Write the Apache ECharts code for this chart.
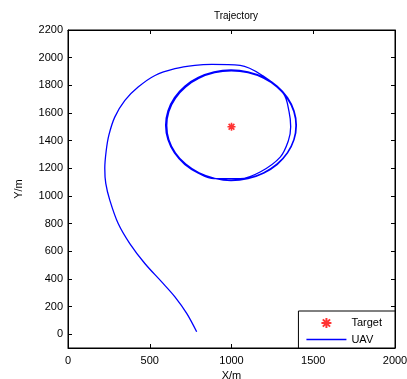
<!DOCTYPE html>
<html>
<head>
<meta charset="utf-8">
<script src="https://cdn.jsdelivr.net/npm/echarts@6/dist/echarts.min.js"></script>
<style>
  html, body { margin: 0; padding: 0; background: #fff; }
  #main { width: 407px; height: 379px; }
</style>
</head>
<body>
<div id="main"></div>
<script>
// tick labels
var xTicks = [0, 500, 1000, 1500, 2000];
var yTicks = [0, 200, 400, 600, 800, 1000, 1200, 1400, 1600, 1800, 2000, 2200];

// target position
var targetX = [1000];
var targetY = [1500];

// UAV path: approach, wide sweep, then two loops round the target
var uavX = [787, 726, 654, 573, 470, 378, 307, 256, 231, 225, 234, 250, 286, 348, 429, 532, 654, 776, 879,
  1053, 1190, 1318, 1352, 1362, 1348, 1298, 1175, 1053,
  893, 797, 714, 651, 611, 597, 611, 651, 714, 797, 893, 997, 1101, 1197, 1280, 1343, 1383, 1397,
  1383, 1343, 1280, 1197, 1101, 997,
  897, 802, 720, 657, 617, 604, 617, 657, 720, 802, 897, 999, 1101, 1196, 1278, 1341, 1381, 1394,
  1381, 1341, 1278, 1196, 1101, 999, 897];
var uavY = [17, 150, 270, 378, 511, 655, 800, 968, 1090, 1200, 1330, 1440, 1570, 1691, 1787, 1871, 1920, 1944, 1951,
  1944, 1870, 1739, 1610, 1500, 1400, 1281, 1173, 1125,
  1125, 1165, 1228, 1311, 1407, 1511, 1615, 1711, 1794, 1857, 1897, 1911, 1897, 1857, 1794, 1711, 1615, 1511,
  1407, 1311, 1228, 1165, 1125, 1111,
  1127, 1167, 1230, 1312, 1407, 1509, 1611, 1706, 1788, 1851, 1891, 1904, 1891, 1851, 1788, 1706, 1611, 1509,
  1407, 1312, 1230, 1167, 1127, 1114, 1127];

var uavData = uavX.map(function (x, i) { return [x, uavY[i]]; });
var targetData = targetX.map(function (x, i) { return [x, targetY[i]]; });

var font = 'Liberation Sans, Arial, sans-serif';
var star = 'path://M0,-5L0,5M-5,0L5,0M-3.6,-3.6L3.6,3.6M-3.6,3.6L3.6,-3.6';
var plain = function (v) { return String(v); };
var tick = { inside: true, length: 4, lineStyle: { color: '#000', width: 1 } };

var myChart = echarts.init(document.getElementById('main'));
myChart.setOption({
    animation: false,
    title: {
        text: 'Trajectory',
        left: 231, top: 6, textAlign: 'center',
        textStyle: { fontFamily: font, fontSize: 10, fontWeight: 'normal', color: '#000' }
    },
    legend: {
        right: 12, bottom: 31,
        orient: 'vertical',
        itemWidth: 40, itemHeight: 10, itemGap: 5,
        padding: [6, 13, 3, 8],
        borderColor: '#000', borderWidth: 1,
        backgroundColor: '#fff',
        textStyle: { fontFamily: font, fontSize: 11, color: '#000' },
        data: ['Target', { name: 'UAV', icon: 'path://M0,0H40V1.3H0Z' }]
    },
    grid: {
        left: 68, right: 12, top: 30, bottom: 31,
        outerBoundsMode: 'none',
        show: true, borderColor: '#000', borderWidth: 1
    },
    xAxis: [{
        type: 'value', min: 0, max: 2000, interval: 500,
        name: 'X/m', nameLocation: 'middle', nameGap: 22,
        nameTextStyle: { fontFamily: font, fontSize: 11, color: '#000' },
        axisLine: { show: true, onZero: false, lineStyle: { color: '#000' } },
        axisTick: tick,
        axisLabel: { fontFamily: font, fontSize: 11, color: '#000', margin: 7, formatter: plain },
        splitLine: { show: false }
    }, {
        type: 'value', min: 0, max: 2000, interval: 500, position: 'top',
        axisLine: { show: true, onZero: false, lineStyle: { color: '#000' } },
        axisTick: tick,
        axisLabel: { show: false },
        splitLine: { show: false }
    }],
    yAxis: [{
        type: 'value', min: -100, max: 2200,
        name: 'Y/m', nameLocation: 'middle', nameGap: 44, nameRotate: 90,
        nameTextStyle: { fontFamily: font, fontSize: 11, color: '#000' },
        axisLine: { show: true, onZero: false, lineStyle: { color: '#000' } },
        axisTick: { inside: true, length: 4, customValues: yTicks, lineStyle: { color: '#000', width: 1 } },
        axisLabel: { fontFamily: font, fontSize: 11, color: '#000', margin: 5, customValues: yTicks, formatter: plain },
        splitLine: { show: false }
    }, {
        type: 'value', min: -100, max: 2200, position: 'right',
        axisLine: { show: true, onZero: false, lineStyle: { color: '#000' } },
        axisTick: { inside: true, length: 4, customValues: yTicks, lineStyle: { color: '#000', width: 1 } },
        axisLabel: { show: false },
        splitLine: { show: false }
    }],
    series: [{
        name: 'Target',
        type: 'scatter',
        data: targetData,
        symbol: star,
        symbolSize: 8,
        itemStyle: { color: 'transparent', borderColor: '#ff0000', borderWidth: 1.6 },
        z: 5
    }, {
        name: 'UAV',
        type: 'line',
        data: uavData,
        smooth: 0.35,
        symbol: 'none',
        lineStyle: { color: '#0000ff', width: 1.3 },
        itemStyle: { color: '#0000ff' }
    }]
});
</script>
</body>
</html>
